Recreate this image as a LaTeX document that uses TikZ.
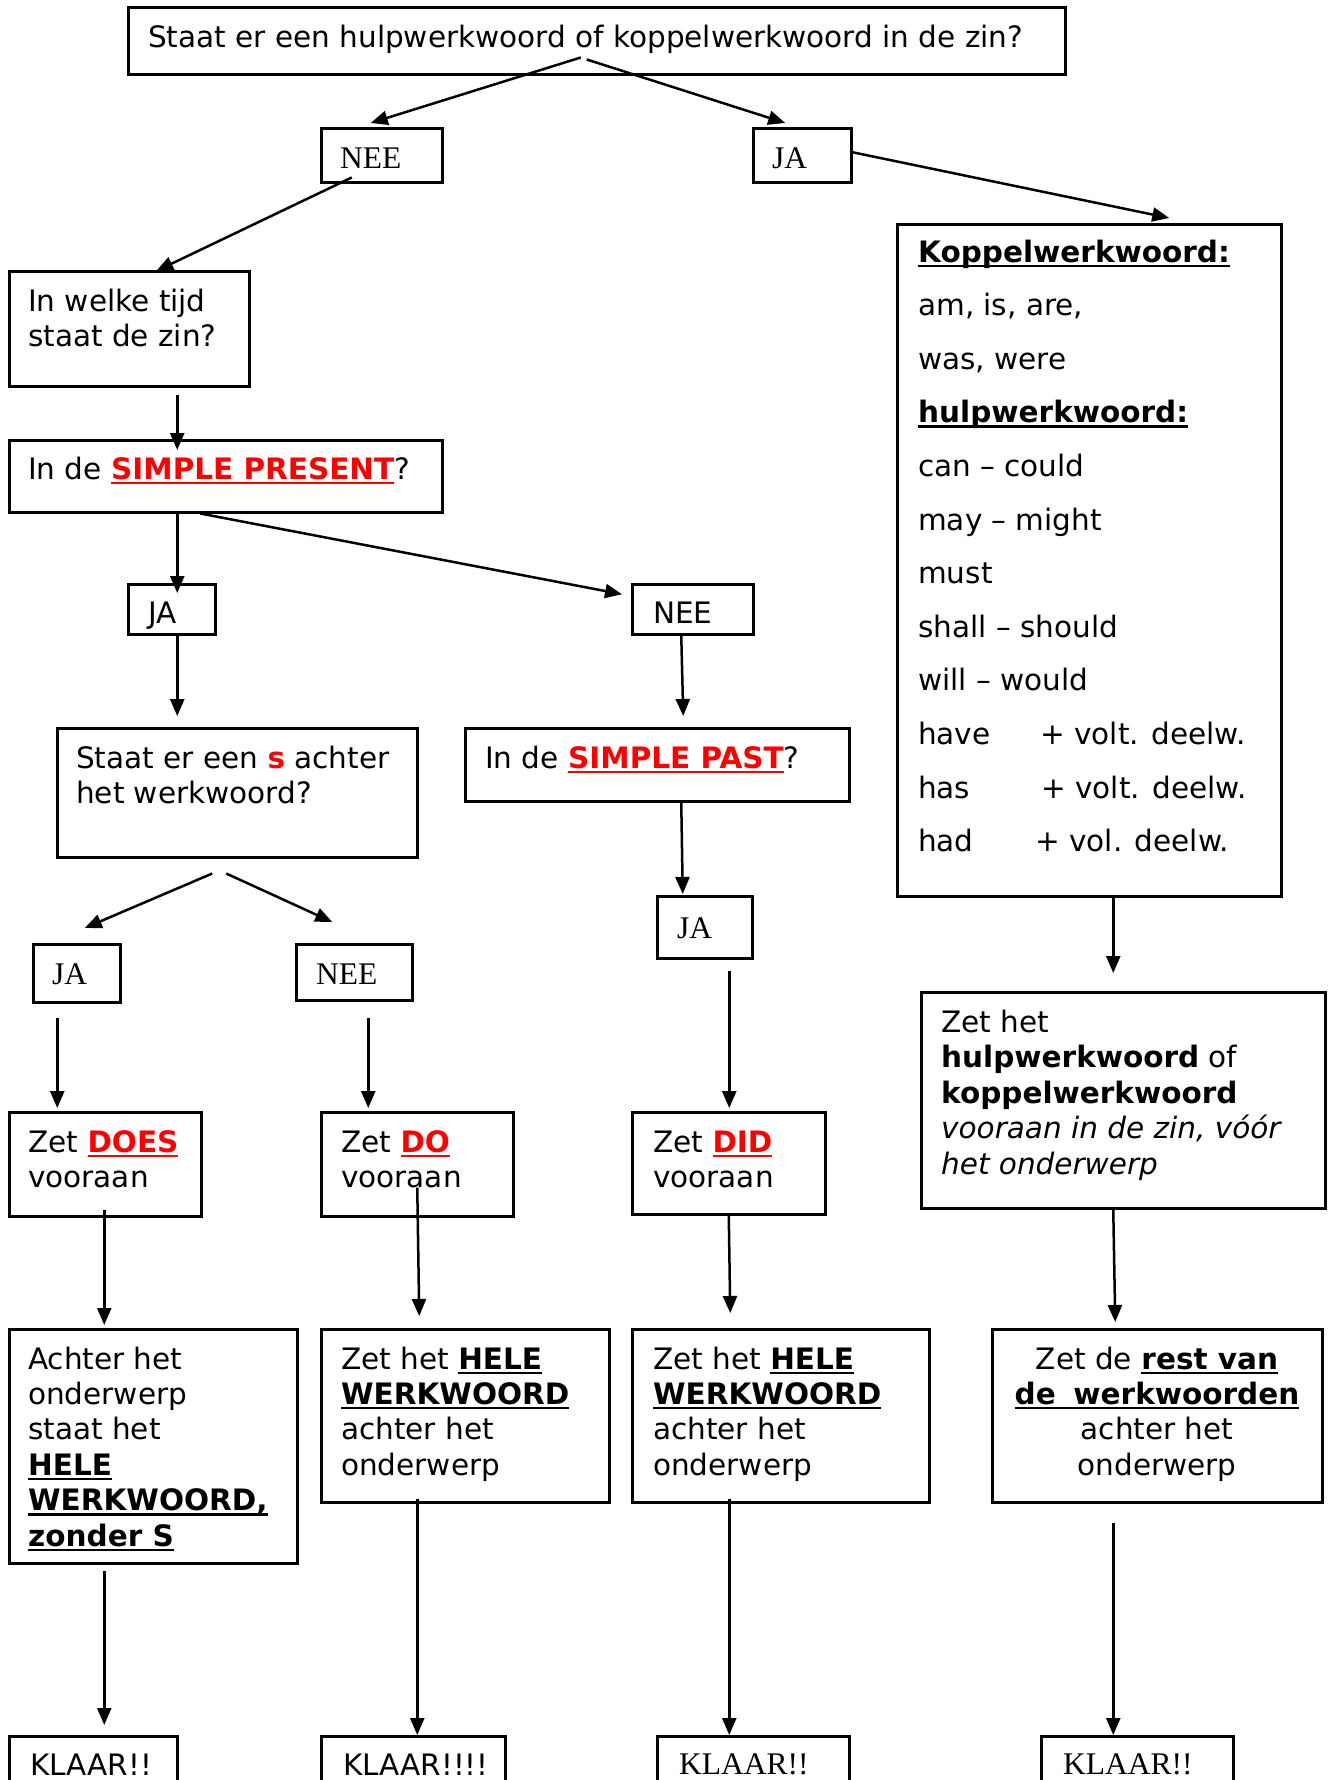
\documentclass[tikz,border=0pt]{standalone}
\usepackage{fontspec}
\setmainfont{DejaVu Sans}
\newfontfamily\serifft{Liberation Serif}
\usetikzlibrary{arrows.meta}
\newcommand{\ulx}[1]{\setbox0=\hbox{#1}\rlap{\rule[-0.17em]{\wd0}{0.085em}}\box0}
\newcommand{\rb}[1]{\textcolor{red}{\bfseries\ulx{#1}}}
\newcommand{\bu}[1]{{\bfseries\ulx{#1}}}
\begin{document}
\begin{tikzpicture}[x=1pt,y=-1pt,
  box/.style={draw, line width=2.5pt, anchor=north west, inner sep=0pt},
  tx/.style={anchor=base west, inner sep=0pt, font=\fontsize{29.5}{35.5}\selectfont},
  txc/.style={anchor=base, inner sep=0pt, font=\fontsize{29.5}{35.5}\selectfont},
  sf/.style={anchor=base west, inner sep=0pt, font=\serifft\fontsize{31.5}{37}\selectfont},
  arr/.style={line width=2.5pt, -{Triangle[length=17pt,width=14pt]}}]
\useasboundingbox (0,0) rectangle (1331,1780);
\clip (0,0) rectangle (1331,1780);
\fill[white] (0,0) rectangle (1331,1780);

% boxes
\node[box, minimum width=937pt, minimum height=67pt] (top) at (127,6) {};
\node[box, minimum width=121pt, minimum height=54pt] (nee1) at (320,127) {};
\node[box, minimum width=98pt, minimum height=54pt] (ja1) at (752,127) {};
\node[box, minimum width=240pt, minimum height=115pt] (welke) at (8,270) {};
\node[box, minimum width=433pt, minimum height=72pt] (pres) at (8,439) {};
\node[box, minimum width=87pt, minimum height=50pt] (ja2) at (127,583) {};
\node[box, minimum width=121pt, minimum height=50pt] (nee2) at (631,583) {};
\node[box, minimum width=360pt, minimum height=129pt] (sbox) at (56,727) {};
\node[box, minimum width=384pt, minimum height=73pt] (past) at (464,727) {};
\node[box, minimum width=87pt, minimum height=58pt] (ja3) at (32,943) {};
\node[box, minimum width=116pt, minimum height=56pt] (nee3) at (295,943) {};
\node[box, minimum width=95pt, minimum height=62pt] (ja4) at (656,895) {};
\node[box, minimum width=384pt, minimum height=672pt] (kop) at (896,223) {};
\node[box, minimum width=404pt, minimum height=216pt] (hulp) at (920,991) {};
\node[box, minimum width=192pt, minimum height=104pt] (does) at (8,1111) {};
\node[box, minimum width=192pt, minimum height=104pt] (do) at (320,1111) {};
\node[box, minimum width=193pt, minimum height=102pt] (did) at (631,1111) {};
\node[box, minimum width=288pt, minimum height=234pt] (achter) at (8,1328) {};
\node[box, minimum width=288pt, minimum height=173pt] (hele1) at (320,1328) {};
\node[box, minimum width=297pt, minimum height=173pt] (hele2) at (631,1328) {};
\node[box, minimum width=330pt, minimum height=173pt] (rest) at (991,1328) {};
\node[box, minimum width=168pt, minimum height=90pt] (klaar1) at (8,1735) {};
\node[box, minimum width=184pt, minimum height=90pt] (klaar2) at (320,1735) {};
\node[box, minimum width=192pt, minimum height=90pt] (klaar3) at (656,1735) {};
\node[box, minimum width=192pt, minimum height=90pt] (klaar4) at (1040,1735) {};

% texts
\node[tx] (t-top) at (148,47) {Staat er een hulpwerkwoord of koppelwerkwoord in de zin?};
\node[sf] (t-nee1) at (340,168) {NEE};
\node[sf] (t-ja1) at (772,168) {JA};
\node[tx] (t-welke1) at (28,311) {In welke tijd};
\node[tx] (t-welke2) at (28,346) {staat de zin?};
\node[tx] (t-pres) at (28,479) {In de \rb{SIMPLE PRESENT}?};
\node[tx] (t-ja2) at (148,623) {JA};
\node[tx] (t-nee2) at (653,623) {NEE};
\node[tx] (t-s1) at (76,768) {Staat er een \textcolor{red}{\bfseries s} achter};
\node[tx] (t-s2) at (76,803) {het werkwoord?};
\node[tx] (t-past) at (485,768) {In de \rb{SIMPLE PAST}?};
\node[sf] (t-ja3) at (52,984) {JA};
\node[sf] (t-nee3) at (316,984) {NEE};
\node[sf] (t-ja4) at (677,938) {JA};

\node[tx] (k1) at (918,262) {\bu{Koppelwerkwoord:}};
\node[tx] (k2) at (918,315.6) {am, is, are,};
\node[tx] (k3) at (918,369.2) {was, were};
\node[tx] (k4) at (918,422.8) {\bu{hulpwerkwoord:}};
\node[tx] (k5) at (918,476.4) {can – could};
\node[tx] (k6) at (918,530) {may – might};
\node[tx] (k7) at (918,583.6) {must};
\node[tx] (k8) at (918,637.2) {shall – should};
\node[tx] (k9) at (918,690.8) {will – would};
\node[tx] (k10) at (918,744.4) {have};
\node[tx] (k10b) at (1040,744.4) {+ volt. deelw.};
\node[tx] (k11) at (918,798) {has};
\node[tx] (k11b) at (1041,798) {+ volt. deelw.};
\node[tx] (k12) at (918,851.6) {had};
\node[tx] (k12b) at (1035,851.6) {+ vol. deelw.};

\node[tx] (h1) at (941,1032) {Zet het};
\node[tx] (h2) at (941,1067.5) {\textbf{hulpwerkwoord} of};
\node[tx] (h3) at (941,1103) {\textbf{koppelwerkwoord}};
\node[tx] (h4) at (941,1138.5) {\itshape vooraan in de zin, vóór};
\node[tx] (h5) at (941,1174) {\itshape het onderwerp};

\node[tx] (d1) at (28,1152) {Zet \rb{DOES}};
\node[tx] (d2) at (28,1187) {vooraan};
\node[tx] (o1) at (341,1152) {Zet \rb{DO}};
\node[tx] (o2) at (341,1187) {vooraan};
\node[tx] (i1) at (653,1152) {Zet \rb{DID}};
\node[tx] (i2) at (653,1187) {vooraan};

\node[tx] (a1) at (28,1369) {Achter het};
\node[tx] (a2) at (28,1404) {onderwerp};
\node[tx] (a3) at (28,1439.5) {staat het};
\node[tx] (a4) at (28,1475) {\bu{HELE}};
\node[tx] (a5) at (28,1510.5) {\bu{WERKWOORD,}};
\node[tx] (a6) at (28,1546) {\bu{zonder S}};

\node[tx] (e1) at (341,1369) {Zet het \bu{HELE}};
\node[tx] (e2) at (341,1404) {\bu{WERKWOORD}};
\node[tx] (e3) at (341,1439.5) {achter het};
\node[tx] (e4) at (341,1475) {onderwerp};
\node[tx] (f1) at (653,1369) {Zet het \bu{HELE}};
\node[tx] (f2) at (653,1404) {\bu{WERKWOORD}};
\node[tx] (f3) at (653,1439.5) {achter het};
\node[tx] (f4) at (653,1475) {onderwerp};

\node[txc] (r1) at (1157,1369) {Zet de \bu{rest van}};
\node[txc] (r2) at (1157,1404) {\bu{de\hspace{0.6em}werkwoorden}};
\node[txc] (r3) at (1157,1439.5) {achter het};
\node[txc] (r4) at (1157,1475) {onderwerp};

\node[tx] (kl1) at (30,1775) {KLAAR!!};
\node[tx] (kl2) at (343,1775) {KLAAR!!!!};
\node[sf] (kl3) at (679,1774) {KLAAR!!};
\node[sf] (kl4) at (1063,1774) {KLAAR!!};

% connectors
\draw[arr] ([xshift=-16pt,yshift=18pt]top.south) -- ([xshift=-11pt,yshift=4pt]nee1.north);
\draw[arr] ([xshift=-10pt,yshift=16pt]top.south) -- ([xshift=-17pt,yshift=4pt]ja1.north);
\draw[arr] ([xshift=-30pt,yshift=6pt]nee1.south) -- ([xshift=27pt,yshift=-1pt]welke.north);
\draw[arr] ([yshift=3pt]ja1.east) -- ([xshift=80pt,yshift=5pt]kop.north);
\draw[arr] ([xshift=48pt,yshift=-7pt]welke.south) -- ([xshift=-48.5pt,yshift=-11pt]pres.north);
\draw[arr] ([xshift=-48.5pt]pres.south) -- ([xshift=5.5pt,yshift=-10pt]ja2.north);
\draw[arr] ([xshift=-25.5pt]pres.south) -- ([xshift=-9pt,yshift=15pt]nee2.west);
\draw[arr] ([xshift=5.5pt]ja2.south) -- ([xshift=-60pt,yshift=11pt]sbox.north);
\draw[arr] ([xshift=-11.5pt]nee2.south) -- ([xshift=26pt,yshift=11pt]past.north);
\draw[arr] ([xshift=-25pt,yshift=-15pt]sbox.south) -- ([xshift=8pt,yshift=15pt]ja3.north);
\draw[arr] ([xshift=-11pt,yshift=-15pt]sbox.south) -- ([xshift=-22pt,yshift=21pt]nee3.north);
\draw[arr] ([xshift=24pt]past.south) -- ([xshift=-22pt,yshift=1pt]ja4.north);
\draw[arr] ([xshift=-19.5pt,yshift=-14pt]ja3.south) -- ([xshift=-48pt,yshift=3pt]does.north);
\draw[arr] ([xshift=14pt,yshift=-16pt]nee3.south) -- ([xshift=-49pt,yshift=3pt]do.north);
\draw[arr] ([xshift=24.5pt,yshift=-11pt]ja4.south) -- ([xshift=0.5pt,yshift=3pt]did.north);
\draw[arr] ([xshift=24pt]kop.south) -- ([xshift=-10pt,yshift=18pt]hulp.north);
\draw[arr] ([xshift=-1pt,yshift=8pt]does.south) -- ([xshift=-49pt,yshift=3pt]achter.north);
\draw[arr] ([yshift=30pt]do.south) -- ([xshift=-46pt,yshift=12pt]hele1.north);
\draw[arr] ([yshift=1pt]did.south) -- ([xshift=-50.5pt,yshift=15pt]hele2.north);
\draw[arr] ([xshift=-10pt]hulp.south) -- ([xshift=-42pt,yshift=6pt]rest.north);
\draw[arr] ([xshift=-49pt,yshift=-6pt]achter.south) -- ([xshift=11pt,yshift=10pt]klaar1.north);
\draw[arr] ([xshift=-48pt,yshift=5pt]hele1.south) -- ([xshift=4pt]klaar2.north);
\draw[arr] ([xshift=-51.5pt,yshift=5pt]hele2.south) -- ([xshift=-24pt]klaar3.north);
\draw[arr] ([xshift=-44pt,yshift=-19pt]rest.south) -- ([xshift=-24pt]klaar4.north);
\end{tikzpicture}
\end{document}
